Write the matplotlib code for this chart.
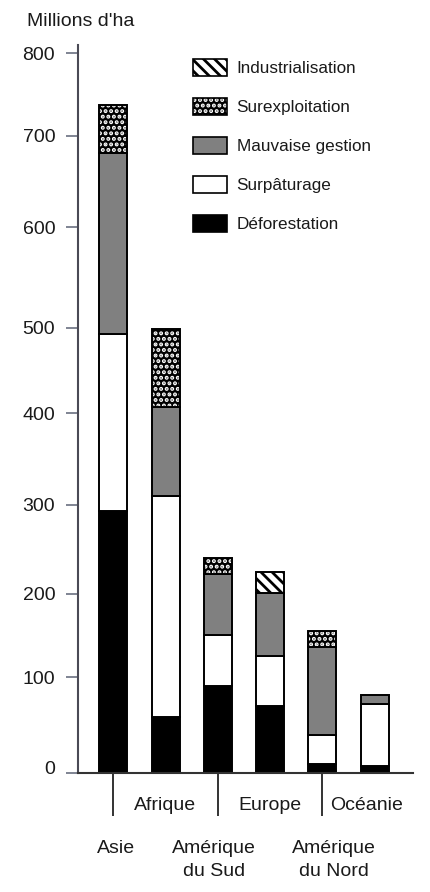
import numpy as np
import matplotlib
matplotlib.use("Agg")
import matplotlib.pyplot as plt
import matplotlib.transforms as mtransforms
from matplotlib.patches import Patch
from matplotlib.legend_handler import HandlerTuple

plt.rcParams['font.family'] = ['Liberation Sans', 'DejaVu Sans']
plt.rcParams['hatch.linewidth'] = 2.0

# ---- data (Millions d'ha) ----
regions_major = ["Asie", "Amérique\ndu Sud", "Amérique\ndu Nord"]
regions_minor = ["Afrique", "Europe", "Océanie"]
regions = ["Asie", "Afrique", "Amérique du Sud", "Europe", "Amérique du Nord", "Océanie"]
deforestation = [293, 58, 91, 70, 9, 7]
surpaturage = [200, 252, 60, 56, 31, 65]
mauvaise_gestion = [188, 97, 72, 75, 96, 10]
surexploitation = [56, 91, 17, 0, 19, 0]
industrialisation = [0, 0, 0, 24, 0, 0]
y_ticks = [0, 100, 200, 300, 400, 500, 600, 700, 800]

# calibration of the (hand-drawn) printed value axis: relative height of each tick
axis_vals = [-100, 0, 100, 200, 300, 400, 500, 600, 700, 800, 1000]
axis_pos = [-95.7, 0, 95.7, 179, 268, 359.7, 445.3, 545.7, 637.3, 719.7, 884.5]


def fwd(v):
    return np.interp(v, axis_vals, axis_pos)


def inv(h):
    return np.interp(h, axis_pos, axis_vals)


fig = plt.figure(figsize=(4.3, 8.92), dpi=100)
ax = fig.add_axes([0.182, 0.1334, 0.778, 0.8162])
ax.set_yscale('function', functions=(fwd, inv))

x = np.arange(len(regions))
w = 0.535
bottom = np.zeros(len(regions))

series = [
    ("Déforestation", deforestation, dict(color='black')),
    ("Surpâturage", surpaturage, dict(color='white')),
    ("Mauvaise gestion", mauvaise_gestion, dict(color='#808080')),
    ("Surexploitation", surexploitation, None),
    ("Industrialisation", industrialisation, dict(color='white', hatch='\\\\\\')),
]

for name, vals, style in series:
    vals = np.asarray(vals, dtype=float)
    m = vals > 0
    if style is None:
        ax.bar(x[m], vals[m], bottom=bottom[m], width=w, color='black',
               edgecolor='white', hatch='...', linewidth=0)
        ax.bar(x[m], vals[m], bottom=bottom[m], width=w, fill=False,
               edgecolor='black', linewidth=1.4)
    else:
        ax.bar(x[m], vals[m], bottom=bottom[m], width=w, edgecolor='black',
               linewidth=1.4, **style)
    bottom += vals

ax.set_xlim(-0.669, 5.73)
ax.set_ylim(0, 810)

# axes styling
for s in ['top', 'right']:
    ax.spines[s].set_visible(False)
ax.spines['left'].set_color('#4a4a55')
ax.spines['left'].set_linewidth(1.5)
ax.spines['bottom'].set_color('#333333')
ax.spines['bottom'].set_linewidth(1.5)

ax.set_yticks(y_ticks)
ax.set_yticklabels([str(v) for v in y_ticks])
ax.yaxis.set_minor_locator(matplotlib.ticker.NullLocator())
ax.tick_params(axis='y', length=8.6, width=1.2, color='#6a7080', pad=8,
               labelsize=14, labelcolor='#1a1a1a')

ax.set_xticks(x[0::2])
ax.set_xticklabels(regions_major, linespacing=1.45)
ax.set_xticks(x[1::2], minor=True)
ax.set_xticklabels(regions_minor, minor=True)
ax.tick_params(axis='x', which='major', length=31, width=1.4, color='#333333',
               pad=17.5, labelsize=14, labelcolor='#1a1a1a')
ax.tick_params(axis='x', which='minor', length=0, pad=17.2, labelsize=14,
               labelcolor='#1a1a1a')


def shift(label, dx_px, dy_px):
    label.set_transform(label.get_transform() +
                        mtransforms.Affine2D().translate(dx_px, dy_px))


shift(ax.get_xticklabels()[0], 3, 0)
shift(ax.get_xticklabels()[1], -4, 0)
shift(ax.get_xticklabels()[2], 12, 0)
shift(ax.get_xticklabels(minor=True)[2], -8, 0)
shift(ax.get_yticklabels()[0], 0, 6)

fig.text(27 / 430, 1 - 22 / 892, "Millions d'ha", fontsize=14, va='center',
         ha='left', color='#1a1a1a')

# legend
h_ind = Patch(facecolor='white', edgecolor='black', hatch='\\\\\\', linewidth=1.2)
h_sur = (Patch(facecolor='black', edgecolor='white', hatch='...', linewidth=0),
         Patch(fill=False, edgecolor='black', linewidth=1.2))
h_mg = Patch(facecolor='#808080', edgecolor='black', linewidth=1.2)
h_sp = Patch(facecolor='white', edgecolor='black', linewidth=1.2)
h_df = Patch(facecolor='black', edgecolor='black', linewidth=1.2)
leg = fig.legend([h_ind, h_sur, h_mg, h_sp, h_df],
                 ["Industrialisation", "Surexploitation", "Mauvaise gestion",
                  "Surpâturage", "Déforestation"],
                 handler_map={tuple: HandlerTuple(ndivide=1)},
                 loc='upper left', bbox_to_anchor=(193 / 430, 1 - 59 / 892),
                 frameon=False, fontsize=12.3, borderpad=0, borderaxespad=0,
                 handlelength=2.0, handleheight=1.15, handletextpad=0.55,
                 labelspacing=1.27)
for t in leg.get_texts():
    t.set_color('#1a1a1a')

fig.savefig("out.png", dpi=100)
